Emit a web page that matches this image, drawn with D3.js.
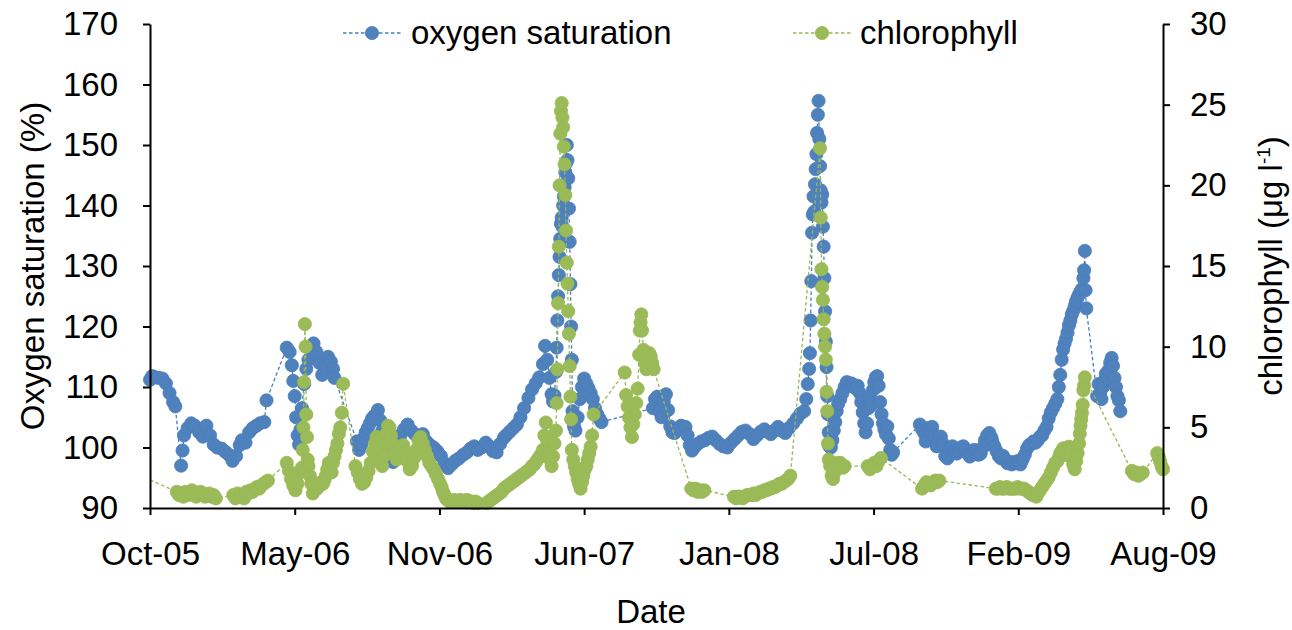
<!DOCTYPE html>
<html>
<head>
<meta charset="utf-8">
<script src="https://cdn.jsdelivr.net/npm/d3@7"></script>
<style>
  html, body { margin: 0; padding: 0; background: #fff; }
  svg { display: block; }
  text { font-family: "Liberation Sans", Arial, sans-serif; fill: #000; }
</style>
</head>
<body>
<svg id="chart" width="1292" height="630"></svg>
<script>
// Daily-ish oxygen saturation readings (%), left axis
const oxygen = [
  ["2005-10-25",111.2],["2005-10-28",111.8],
  ["2005-11-01",111.6],["2005-11-06",111.5],["2005-11-11",111.4],["2005-11-16",110.6],["2005-11-21",109.0],["2005-11-26",107.5],["2005-11-29",106.8],
  ["2005-12-07",97.0],["2005-12-09",99.5],["2005-12-11",102.0],["2005-12-16",103.2],["2005-12-21",104.0],["2005-12-26",103.6],
  ["2006-01-01",102.5],["2006-01-06",101.8],["2006-01-11",103.6],["2006-01-16",102.0],["2006-01-21",100.5],["2006-01-26",100.0],
  ["2006-02-01",99.8],["2006-02-06",99.3],["2006-02-11",98.8],["2006-02-16",97.8],["2006-02-21",98.6],["2006-02-26",100.4],
  ["2006-03-01",101.2],["2006-03-06",100.8],["2006-03-11",102.5],["2006-03-16",103.2],["2006-03-21",103.6],["2006-03-26",104.0],
  ["2006-04-01",104.2],["2006-04-04",107.8],
  ["2006-05-02",116.5],["2006-05-06",115.8],["2006-05-09",113.6],["2006-05-11",111.0],["2006-05-13",108.5],["2006-05-15",105.0],["2006-05-17",102.0],["2006-05-19",100.5],["2006-05-21",103.0],["2006-05-23",106.5],["2006-05-26",110.5],["2006-05-29",113.0],
  ["2006-06-01",114.5],["2006-06-04",116.5],["2006-06-08",117.2],["2006-06-12",115.8],["2006-06-16",114.0],["2006-06-20",112.0],["2006-06-24",113.2],["2006-06-28",115.0],
  ["2006-07-02",114.2],["2006-07-05",113.0],["2006-07-07",111.5],
  ["2006-08-07",101.0],["2006-08-10",99.6],["2006-08-13",100.5],["2006-08-16",101.5],["2006-08-19",102.5],["2006-08-22",103.2],["2006-08-25",104.0],["2006-08-28",104.8],["2006-08-31",105.2],
  ["2006-09-03",105.5],["2006-09-05",106.2],["2006-09-08",104.5],["2006-09-11",102.8],["2006-09-14",101.8],["2006-09-17",101.0],["2006-09-20",99.5],["2006-09-23",98.0],["2006-09-26",97.6],["2006-09-29",99.5],
  ["2006-10-01",100.8],["2006-10-06",102.0],["2006-10-11",103.0],["2006-10-16",103.8],["2006-10-21",102.8],["2006-10-26",102.2],
  ["2006-11-01",101.8],["2006-11-06",102.2],["2006-11-11",101.0],["2006-11-16",100.4],["2006-11-21",100.0],["2006-11-26",99.4],
  ["2006-12-01",98.6],["2006-12-06",97.4],["2006-12-11",96.6],["2006-12-16",97.2],["2006-12-21",97.8],["2006-12-26",98.2],
  ["2007-01-01",98.8],["2007-01-06",99.2],["2007-01-11",99.8],["2007-01-16",100.2],["2007-01-21",99.6],["2007-01-26",100.0],
  ["2007-02-01",100.8],["2007-02-06",100.2],["2007-02-11",99.4],["2007-02-16",99.2],["2007-02-21",100.6],["2007-02-26",101.6],
  ["2007-03-01",102.0],["2007-03-06",102.6],["2007-03-11",103.2],["2007-03-16",103.8],["2007-03-21",105.0],["2007-03-26",106.5],
  ["2007-04-01",108.2],["2007-04-06",109.6],["2007-04-11",110.6],["2007-04-16",111.6],["2007-04-21",113.8],["2007-04-24",116.8],["2007-04-27",114.5],["2007-04-30",111.5],
  ["2007-05-03",108.8],["2007-05-05",107.6],["2007-05-07",108.6],["2007-05-09",112.5],["2007-05-10",116.5],["2007-05-11",121.0],["2007-05-12",125.0],["2007-05-13",128.5],["2007-05-14",131.5],["2007-05-15",134.5],["2007-05-16",137.0],["2007-05-17",138.0],["2007-05-18",136.5],["2007-05-19",140.0],["2007-05-20",141.5],["2007-05-21",143.0],["2007-05-22",145.5],["2007-05-23",147.0],["2007-05-24",150.0],["2007-05-25",147.5],["2007-05-26",144.5],["2007-05-27",139.5],["2007-05-28",134.0],["2007-05-29",127.0],["2007-05-30",120.0],["2007-05-31",114.5],
  ["2007-06-01",106.0],["2007-06-03",103.5],["2007-06-05",102.8],["2007-06-08",105.0],["2007-06-11",108.0],["2007-06-14",110.0],["2007-06-17",111.4],["2007-06-20",110.6],["2007-06-23",109.8],["2007-06-26",109.0],["2007-06-29",108.0],
  ["2007-07-02",106.5],["2007-07-05",105.5],["2007-07-08",104.8],["2007-07-11",104.2],
  ["2007-09-20",106.5],["2007-09-23",108.0],["2007-09-26",108.4],["2007-09-29",106.0],
  ["2007-10-02",105.0],["2007-10-05",107.6],["2007-10-08",108.8],["2007-10-11",106.2],["2007-10-14",103.5],["2007-10-17",102.5],["2007-10-20",102.4],["2007-10-23",102.8],["2007-10-26",103.2],["2007-10-29",103.6],
  ["2007-11-01",103.0],["2007-11-04",103.4],["2007-11-07",102.0],["2007-11-10",100.4],["2007-11-13",99.5],["2007-11-16",100.0],["2007-11-21",100.6],["2007-11-26",101.0],
  ["2007-12-01",101.2],["2007-12-06",101.6],["2007-12-11",101.8],["2007-12-16",101.2],["2007-12-21",100.6],["2007-12-26",100.2],
  ["2008-01-01",100.0],["2008-01-06",100.8],["2008-01-11",101.4],["2008-01-16",102.0],["2008-01-21",102.6],["2008-01-26",102.8],
  ["2008-02-01",102.2],["2008-02-06",101.4],["2008-02-11",102.0],["2008-02-16",102.6],["2008-02-21",103.0],["2008-02-26",102.6],
  ["2008-03-01",102.2],["2008-03-06",102.8],["2008-03-11",103.4],["2008-03-16",102.8],["2008-03-21",102.4],["2008-03-26",103.2],
  ["2008-04-01",104.0],["2008-04-06",104.8],["2008-04-11",105.6],["2008-04-16",106.0],["2008-04-19",108.0],["2008-04-21",110.5],["2008-04-23",113.0],["2008-04-24",115.6],["2008-04-25",121.0],["2008-04-26",127.5],["2008-04-27",135.5],["2008-04-28",138.5],["2008-04-29",141.5],["2008-04-30",139.0],
  ["2008-05-01",143.5],["2008-05-02",146.0],["2008-05-03",148.5],["2008-05-04",152.0],["2008-05-05",155.0],["2008-05-06",157.3],["2008-05-07",151.0],["2008-05-08",146.5],["2008-05-09",142.5],["2008-05-10",140.5],["2008-05-11",141.8],["2008-05-12",136.5],["2008-05-13",133.2],["2008-05-14",128.0],["2008-05-15",122.5],["2008-05-16",117.5],["2008-05-17",113.3],["2008-05-18",108.5],["2008-05-19",105.5],["2008-05-20",102.5],["2008-05-21",100.2],["2008-05-23",100.0],["2008-05-25",101.2],["2008-05-27",102.8],["2008-05-29",104.2],["2008-05-31",106.0],
  ["2008-06-02",107.2],["2008-06-05",108.0],["2008-06-08",109.0],["2008-06-11",110.0],["2008-06-14",110.8],["2008-06-17",110.2],["2008-06-20",110.6],["2008-06-23",110.4],["2008-06-26",109.8],["2008-06-29",110.2],
  ["2008-07-02",109.0],["2008-07-04",107.5],["2008-07-06",105.8],["2008-07-08",104.0],["2008-07-10",102.5],["2008-07-12",104.0],["2008-07-14",106.5],["2008-07-16",108.0],["2008-07-18",107.0],["2008-07-20",109.5],["2008-07-22",110.8],["2008-07-24",111.6],["2008-07-26",111.8],["2008-07-28",110.2],["2008-07-30",107.5],
  ["2008-08-01",105.5],["2008-08-03",104.0],["2008-08-05",103.0],["2008-08-07",102.2],["2008-08-09",103.5],["2008-08-11",101.5],["2008-08-13",99.6],["2008-08-15",98.8],["2008-08-17",99.2],
  ["2008-09-23",103.8],["2008-09-26",103.0],["2008-09-29",102.4],
  ["2008-10-01",101.0],["2008-10-04",103.2],["2008-10-07",102.8],["2008-10-10",103.4],["2008-10-13",102.0],["2008-10-16",100.2],["2008-10-19",101.5],["2008-10-22",101.8],["2008-10-25",100.6],["2008-10-28",98.6],["2008-10-31",98.2],
  ["2008-11-01",98.8],["2008-11-04",99.8],["2008-11-07",100.2],["2008-11-10",99.4],["2008-11-13",99.0],["2008-11-16",99.5],["2008-11-19",100.0],["2008-11-22",100.2],["2008-11-25",99.6],["2008-11-28",99.0],
  ["2008-12-01",98.5],["2008-12-04",99.0],["2008-12-07",99.6],["2008-12-10",99.4],["2008-12-13",98.8],["2008-12-16",99.0],["2008-12-19",100.0],["2008-12-22",101.2],["2008-12-25",102.0],["2008-12-28",102.4],["2008-12-31",101.6],
  ["2009-01-01",101.0],["2009-01-04",100.2],["2009-01-07",99.4],["2009-01-10",98.6],["2009-01-13",98.2],["2009-01-16",98.6],["2009-01-19",98.0],["2009-01-22",97.4],["2009-01-25",97.6],["2009-01-28",97.2],["2009-01-31",97.6],
  ["2009-02-03",97.4],["2009-02-06",97.8],["2009-02-09",97.2],["2009-02-12",98.0],["2009-02-15",98.8],["2009-02-18",99.8],["2009-02-21",100.4],["2009-02-24",100.6],["2009-02-27",101.0],
  ["2009-03-02",100.8],["2009-03-05",101.2],["2009-03-08",101.8],["2009-03-11",102.0],["2009-03-14",102.8],["2009-03-17",103.4],["2009-03-20",104.8],["2009-03-23",105.8],["2009-03-26",106.5],["2009-03-29",107.2],
  ["2009-04-01",108.0],["2009-04-03",110.0],["2009-04-05",112.0],["2009-04-07",114.5],["2009-04-09",116.2],["2009-04-11",117.2],["2009-04-13",118.0],["2009-04-15",119.0],["2009-04-17",120.2],["2009-04-19",121.0],["2009-04-21",122.0],["2009-04-23",122.6],["2009-04-25",123.4],["2009-04-27",124.2],["2009-04-29",124.8],
  ["2009-05-01",125.3],["2009-05-03",125.8],["2009-05-05",126.2],["2009-05-07",128.0],["2009-05-08",129.3],["2009-05-09",132.5],["2009-05-10",126.0],["2009-05-11",123.0],
  ["2009-05-26",108.5],["2009-05-28",110.5],["2009-05-30",109.0],
  ["2009-06-01",108.0],["2009-06-03",110.0],["2009-06-05",111.0],["2009-06-07",112.2],["2009-06-09",111.5],["2009-06-11",112.8],["2009-06-13",114.0],["2009-06-15",114.8],["2009-06-17",113.5],["2009-06-19",111.5],["2009-06-21",110.0],["2009-06-23",108.5],["2009-06-25",107.8],["2009-06-27",106.0]
];

// Chlorophyll readings (µg l-1), right axis
const chlorophyll = [
  ["2005-10-10",2.05],
  ["2005-12-01",1.0],["2005-12-04",0.8],["2005-12-07",0.9],["2005-12-10",0.7],["2005-12-13",1.0],["2005-12-16",0.8],["2005-12-19",0.9],["2005-12-22",1.1],["2005-12-25",0.8],["2005-12-28",0.7],["2005-12-31",0.9],
  ["2006-01-03",1.0],["2006-01-06",0.9],["2006-01-09",0.7],["2006-01-12",0.8],["2006-01-15",0.9],["2006-01-18",0.7],["2006-01-21",0.8],["2006-01-24",0.6],
  ["2006-02-17",0.8],["2006-02-20",0.6],["2006-02-23",0.9],["2006-02-26",0.7],
  ["2006-03-01",0.8],["2006-03-04",0.6],["2006-03-07",1.0],["2006-03-10",0.9],["2006-03-13",1.1],["2006-03-16",1.0],["2006-03-19",1.2],["2006-03-22",1.3],["2006-03-25",1.2],["2006-03-28",1.4],["2006-03-31",1.5],
  ["2006-04-03",1.6],["2006-04-06",1.7],
  ["2006-05-02",2.8],["2006-05-05",2.3],["2006-05-08",1.8],["2006-05-11",1.4],["2006-05-14",1.1],["2006-05-17",1.5],["2006-05-20",2.2],["2006-05-23",2.5],["2006-05-24",3.6],["2006-05-25",5.0],["2006-05-26",7.8],["2006-05-27",11.4],["2006-05-28",10.0],["2006-05-29",5.8],["2006-05-30",4.4],["2006-05-31",3.0],
  ["2006-06-01",2.6],["2006-06-03",2.0],["2006-06-05",1.5],["2006-06-07",0.9],["2006-06-09",1.1],["2006-06-11",1.4],["2006-06-13",1.2],["2006-06-15",1.5],["2006-06-17",1.4],["2006-06-19",1.6],["2006-06-21",1.5],["2006-06-23",1.7],["2006-06-25",2.0],["2006-06-27",2.4],["2006-06-29",2.8],
  ["2006-07-01",2.6],["2006-07-03",2.2],["2006-07-05",2.8],["2006-07-07",3.2],["2006-07-09",3.6],["2006-07-11",4.0],["2006-07-13",4.6],["2006-07-15",5.0],["2006-07-17",5.9],["2006-07-19",7.7],
  ["2006-08-05",2.6],["2006-08-08",2.2],["2006-08-11",1.8],["2006-08-14",1.5],["2006-08-17",1.6],["2006-08-20",1.9],["2006-08-23",2.3],["2006-08-26",2.8],["2006-08-29",3.5],
  ["2006-09-01",4.0],["2006-09-03",4.4],["2006-09-05",4.2],["2006-09-07",3.5],["2006-09-09",3.0],["2006-09-11",2.6],["2006-09-13",3.2],["2006-09-15",4.0],["2006-09-17",4.6],["2006-09-19",5.1],["2006-09-21",5.0],["2006-09-23",4.5],["2006-09-25",4.0],["2006-09-27",3.6],["2006-09-29",3.4],
  ["2006-10-01",3.0],["2006-10-04",3.2],["2006-10-07",3.6],["2006-10-10",3.9],["2006-10-13",3.5],["2006-10-16",2.9],["2006-10-19",2.4],["2006-10-22",2.6],["2006-10-25",3.1],["2006-10-28",3.6],["2006-10-31",4.2],
  ["2006-11-03",4.4],["2006-11-06",4.0],["2006-11-09",3.6],["2006-11-12",3.2],["2006-11-15",2.8],["2006-11-18",2.6],["2006-11-21",2.4],["2006-11-24",2.1],["2006-11-27",1.8],["2006-11-30",1.5],
  ["2006-12-02",1.3],["2006-12-04",1.0],["2006-12-06",0.8],["2006-12-08",0.6],["2006-12-10",0.5],["2006-12-13",0.4],["2006-12-16",0.4],["2006-12-19",0.5],["2006-12-22",0.4],["2006-12-25",0.4],["2006-12-28",0.5],["2006-12-31",0.4],
  ["2007-01-03",0.4],["2007-01-06",0.5],["2007-01-09",0.4],["2007-01-12",0.4],["2007-01-15",0.3],["2007-01-18",0.4],["2007-01-21",0.3],
  ["2007-02-02",0.3],["2007-02-05",0.4],["2007-02-08",0.5],["2007-02-11",0.6],["2007-02-14",0.7],["2007-02-17",0.8],["2007-02-20",0.9],["2007-02-23",1.0],["2007-02-26",1.2],
  ["2007-03-01",1.3],["2007-03-04",1.4],["2007-03-07",1.5],["2007-03-10",1.6],["2007-03-13",1.7],["2007-03-16",1.8],["2007-03-19",1.9],["2007-03-22",2.0],["2007-03-25",2.1],["2007-03-28",2.2],["2007-03-31",2.3],
  ["2007-04-03",2.4],["2007-04-06",2.6],["2007-04-09",2.7],["2007-04-12",2.9],["2007-04-15",3.1],["2007-04-18",3.3],["2007-04-21",3.6],["2007-04-23",4.5],["2007-04-25",5.3],["2007-04-27",4.2],["2007-04-29",3.4],
  ["2007-05-01",3.0],["2007-05-03",2.6],["2007-05-05",3.2],["2007-05-07",4.0],["2007-05-09",4.8],["2007-05-10",6.5],["2007-05-11",8.6],["2007-05-12",12.7],["2007-05-13",16.2],["2007-05-14",20.0],["2007-05-15",23.2],["2007-05-16",24.6],["2007-05-17",25.1],["2007-05-18",24.2],["2007-05-19",23.6],["2007-05-20",22.4],["2007-05-21",21.3],["2007-05-22",19.4],["2007-05-23",17.2],["2007-05-24",15.2],["2007-05-25",13.9],["2007-05-26",12.2],["2007-05-27",10.8],["2007-05-28",8.8],["2007-05-29",6.9],["2007-05-30",5.5],["2007-05-31",3.6],
  ["2007-06-02",3.0],["2007-06-04",2.6],["2007-06-06",2.2],["2007-06-08",1.8],["2007-06-10",1.5],["2007-06-12",1.2],["2007-06-14",1.6],["2007-06-16",2.0],["2007-06-18",2.4],["2007-06-20",2.6],["2007-06-22",3.0],["2007-06-24",3.4],["2007-06-26",3.8],["2007-06-28",4.5],["2007-06-30",5.8],
  ["2007-08-12",8.4],["2007-08-14",7.0],["2007-08-16",6.3],["2007-08-18",5.6],["2007-08-20",5.0],["2007-08-22",4.4],["2007-08-24",5.2],["2007-08-26",5.8],["2007-08-28",6.5],["2007-08-30",7.4],
  ["2007-09-01",9.5],["2007-09-02",11.0],["2007-09-03",11.5],["2007-09-04",12.0],["2007-09-05",11.0],["2007-09-07",9.8],["2007-09-09",9.0],["2007-09-11",8.6],["2007-09-13",9.2],["2007-09-15",9.6],["2007-09-17",9.4],["2007-09-19",9.0],["2007-09-21",8.6],
  ["2007-11-12",1.2],["2007-11-15",1.1],["2007-11-18",1.2],["2007-11-21",1.0],["2007-11-24",1.1],["2007-11-27",1.0],["2007-11-30",1.1],
  ["2008-01-10",0.7],["2008-01-13",0.6],["2008-01-16",0.7],["2008-01-19",0.7],["2008-01-22",0.6],["2008-01-25",0.7],["2008-01-28",0.8],["2008-01-31",0.8],
  ["2008-02-03",0.8],["2008-02-06",0.9],["2008-02-09",0.8],["2008-02-12",0.9],["2008-02-15",1.0],["2008-02-18",1.0],["2008-02-21",1.1],["2008-02-24",1.1],["2008-02-27",1.2],
  ["2008-03-01",1.2],["2008-03-04",1.3],["2008-03-07",1.3],["2008-03-10",1.4],["2008-03-13",1.5],["2008-03-16",1.5],["2008-03-19",1.6],["2008-03-22",1.7],["2008-03-25",1.8],["2008-03-28",2.0],
  ["2008-05-08",22.3],["2008-05-09",18.0],["2008-05-10",14.8],["2008-05-11",13.7],["2008-05-12",12.9],["2008-05-13",11.7],["2008-05-14",10.8],["2008-05-15",10.0],["2008-05-16",9.2],["2008-05-17",7.2],["2008-05-18",6.0],["2008-05-19",4.0],["2008-05-20",3.0],["2008-05-22",2.6],["2008-05-24",2.0],["2008-05-26",1.8],["2008-05-28",2.2],["2008-05-30",2.6],
  ["2008-06-01",2.8],["2008-06-03",2.5],["2008-06-05",2.8],["2008-06-07",2.6],["2008-06-09",2.5],["2008-06-11",2.6],
  ["2008-07-13",2.6],["2008-07-16",2.4],["2008-07-19",2.6],["2008-07-22",2.8],["2008-07-25",2.6],["2008-07-28",2.9],["2008-07-31",3.1],
  ["2008-09-26",1.2],["2008-09-29",1.4],
  ["2008-10-02",1.6],["2008-10-05",1.5],["2008-10-08",1.4],["2008-10-11",1.6],["2008-10-14",1.7],["2008-10-17",1.6],["2008-10-20",1.7],
  ["2009-01-06",1.2],["2009-01-09",1.2],["2009-01-12",1.3],["2009-01-15",1.2],["2009-01-18",1.2],["2009-01-21",1.3],["2009-01-24",1.2],["2009-01-27",1.2],["2009-01-30",1.2],
  ["2009-02-02",1.2],["2009-02-05",1.3],["2009-02-08",1.2],["2009-02-11",1.2],["2009-02-14",1.2],["2009-02-17",1.1],["2009-02-20",1.0],["2009-02-23",0.9],["2009-02-26",0.8],
  ["2009-03-01",0.8],["2009-03-03",0.7],["2009-03-05",0.9],["2009-03-08",1.1],["2009-03-11",1.3],["2009-03-14",1.5],["2009-03-17",1.7],["2009-03-20",1.9],["2009-03-23",2.2],["2009-03-26",2.5],["2009-03-29",2.8],
  ["2009-04-01",2.9],["2009-04-03",3.1],["2009-04-05",3.4],["2009-04-07",3.5],["2009-04-09",3.7],["2009-04-11",3.5],["2009-04-13",3.3],["2009-04-15",3.6],["2009-04-17",3.8],["2009-04-19",3.5],["2009-04-21",3.1],["2009-04-23",2.7],["2009-04-25",2.4],["2009-04-27",2.9],["2009-04-29",3.4],
  ["2009-05-01",4.0],["2009-05-02",4.6],["2009-05-03",5.1],["2009-05-04",5.5],["2009-05-05",5.9],["2009-05-06",6.4],["2009-05-07",7.3],["2009-05-08",7.6],["2009-05-09",8.1],
  ["2009-07-13",2.3],["2009-07-16",2.1],["2009-07-19",2.2],["2009-07-22",2.0],["2009-07-25",2.1],["2009-07-28",2.2],
  ["2009-08-17",3.4],["2009-08-19",3.2],["2009-08-21",2.9],["2009-08-23",2.6],["2009-08-25",2.4]
];

// Date axis runs in 200-day steps from its first tick
const dateTicks = ["2005-10-25","2006-05-13","2006-11-29","2007-06-17","2008-01-03","2008-07-21","2009-02-06","2009-08-25"];
const oxygenTicks = [90, 100, 110, 120, 130, 140, 150, 160, 170];
const chlorophyllTicks = [0, 5, 10, 15, 20, 25, 30];
const seriesNames = ["oxygen saturation", "chlorophyll"];

const parse = d3.utcParse("%Y-%m-%d");
const fmt = d3.utcFormat("%b-%y");

const svg = d3.select("#chart");
const plot = { left: 150, right: 1163, top: 24, bottom: 508 };
const FS = 33;
const R = 6.6;

const blue = "#4F81BD", blueEdge = "#4A7EBB";
const green = "#9BBB59", greenEdge = "#98B954";

const ticks = dateTicks.map(parse);
const x = d3.scaleUtc().domain([ticks[0], ticks[ticks.length - 1]]).range([plot.left, plot.right]);
const yL = d3.scaleLinear().domain([90, 170]).range([plot.bottom, plot.top]);
const yR = d3.scaleLinear().domain([0, 30]).range([plot.bottom, plot.top]);

const oxy = oxygen.map(([d, v]) => ({ date: parse(d), v }));
const chl = chlorophyll.map(([d, v]) => ({ date: parse(d), v }));

svg.append("defs").append("clipPath").attr("id", "plotClip")
  .append("rect")
  .attr("x", plot.left).attr("y", plot.top - 10)
  .attr("width", plot.right - plot.left).attr("height", plot.bottom - plot.top + 10);

function drawSeries(data, yScale, fill, edge) {
  const g = svg.append("g");
  g.append("path")
    .datum(data)
    .attr("clip-path", "url(#plotClip)")
    .attr("fill", "none")
    .attr("stroke", edge)
    .attr("stroke-width", 1.3)
    .attr("stroke-dasharray", "3.5,2.5")
    .attr("d", d3.line().x(d => x(d.date)).y(d => yScale(d.v)));
  g.selectAll("circle")
    .data(data.filter(d => d.date >= x.domain()[0]))
    .join("circle")
    .attr("cx", d => x(d.date))
    .attr("cy", d => yScale(d.v))
    .attr("r", R)
    .attr("fill", fill)
    .attr("stroke", edge)
    .attr("stroke-width", 0.8);
}

drawSeries(oxy, yL, blue, blueEdge);
drawSeries(chl, yR, green, greenEdge);

// Axes
function styleAxis(g) {
  g.selectAll(".domain").attr("stroke", "#000").attr("stroke-width", 2);
  g.selectAll(".tick line").attr("stroke", "#000").attr("stroke-width", 2);
  g.selectAll(".tick text")
    .style("font-family", '"Liberation Sans", Arial, sans-serif')
    .style("font-size", FS + "px")
    .attr("fill", "#000");
}

const xAxis = svg.append("g")
  .attr("transform", `translate(0,${plot.bottom})`)
  .call(d3.axisBottom(x).tickValues(ticks).tickFormat(fmt).tickSize(7).tickSizeOuter(0).tickPadding(27));
styleAxis(xAxis);

const leftAxis = svg.append("g")
  .attr("transform", `translate(${plot.left},0)`)
  .call(d3.axisLeft(yL).tickValues(oxygenTicks).tickFormat(d3.format("d")).tickSize(7).tickSizeOuter(0).tickPadding(25));
styleAxis(leftAxis);

const rightAxis = svg.append("g")
  .attr("transform", `translate(${plot.right},0)`)
  .call(d3.axisRight(yR).tickValues(chlorophyllTicks).tickFormat(d3.format("d")).tickSize(7).tickSizeOuter(0).tickPadding(20));
styleAxis(rightAxis);

// Axis titles
svg.append("text")
  .attr("x", 651).attr("y", 623)
  .attr("text-anchor", "middle")
  .style("font-size", FS + "px")
  .text("Date");

svg.append("text")
  .attr("transform", `translate(44,${(plot.top + plot.bottom) / 2}) rotate(-90)`)
  .attr("text-anchor", "middle")
  .style("font-size", FS + "px")
  .text("Oxygen saturation (%)");

const rt = svg.append("text")
  .attr("transform", `translate(1282,${(plot.top + plot.bottom) / 2}) rotate(-90)`)
  .attr("text-anchor", "middle")
  .style("font-size", FS + "px");
rt.append("tspan").text("chlorophyll (μg l");
rt.append("tspan").attr("dy", -12).style("font-size", "19px").text("-1");
rt.append("tspan").attr("dy", 12).text(")");

// Legend
const legendItems = [
  { name: seriesNames[0], cx: 372, tx: 411, fill: blue, edge: blueEdge },
  { name: seriesNames[1], cx: 822, tx: 860, fill: green, edge: greenEdge }
];
const lg = svg.append("g");
legendItems.forEach(it => {
  lg.append("line")
    .attr("x1", it.cx - 29).attr("x2", it.cx + 29)
    .attr("y1", 33).attr("y2", 33)
    .attr("stroke", it.edge).attr("stroke-width", 1.3)
    .attr("stroke-dasharray", "3.5,2.5");
  lg.append("circle")
    .attr("cx", it.cx).attr("cy", 33).attr("r", R)
    .attr("fill", it.fill).attr("stroke", it.edge).attr("stroke-width", 0.8);
  lg.append("text")
    .attr("x", it.tx).attr("y", 44)
    .style("font-size", FS + "px")
    .text(it.name);
});
</script>
</body>
</html>
